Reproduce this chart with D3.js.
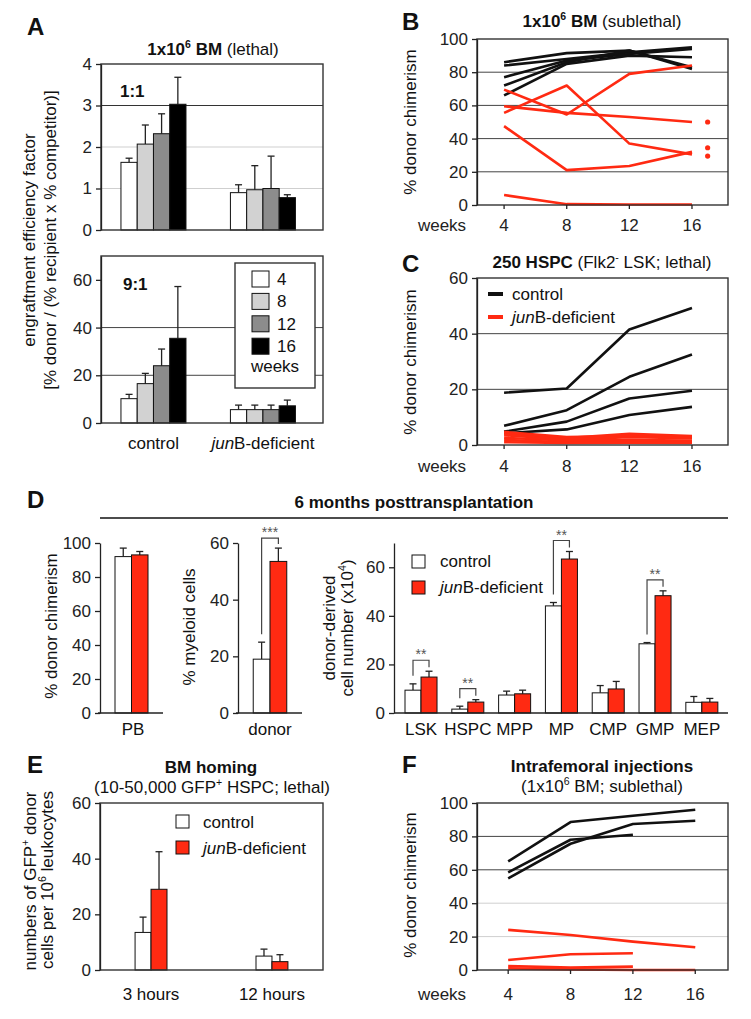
<!DOCTYPE html>
<html>
<head>
<meta charset="utf-8">
<script src="https://cdn.jsdelivr.net/npm/d3@7"></script>
<style>
  body { margin: 0; background: #fff; }
  svg { font-family: "Liberation Sans", Arial, sans-serif; }
</style>
</head>
<body>
<svg id="fig" width="751" height="1019"></svg>
<script>
// ---- data ----
const weeks = [4, 8, 12, 16];
const weekFills = ["#ffffff", "#d2d2d2", "#8c8c8c", "#000000"];
const groupsA = ["control", "junB-deficient"];
// A, 1:1 competitor ratio (mean / top of error bar), rows = group, cols = week
const a11Mean = [[1.63, 2.07, 2.32, 3.03], [0.9, 0.97, 1.0, 0.78]];
const a11Err  = [[1.73, 2.53, 2.80, 3.68], [1.09, 1.55, 1.78, 0.85]];
// A, 9:1
const a91Mean = [[10.2, 16.5, 24, 35.5], [5.6, 5.6, 5.6, 7.2]];
const a91Err  = [[12, 20.8, 31, 57.2], [7.5, 7.5, 7.5, 9.6]];

// B: individual mice, % donor chimerism at weeks 4..16
const bControl = [[86, 91.5, 93, 82], [84, 88, 92, 95], [77, 87, 91, 94], [72, 86, 93, 83], [66, 85, 90, 89]];
const bJunB = [[69.5, 54.5, 79, 84], [55.5, 72, 37, 30.5], [59.5, 55.5, 53, 50], [47.5, 21, 23.5, 32], [6, 0.5, 0.3, 0.3]];
const bDots = [50, 34.5, 29.5];
const bDotWeek = 17;

// C
const cControl = [[18.8, 20.3, 41.5, 49.2], [6.9, 12.5, 24.5, 32.5], [4.8, 8.4, 16.7, 19.5], [4.2, 5.6, 10.8, 13.7]];
const cJunB = [[4.7, 2.9, 3.2, 3.0], [4.2, 2.5, 4.0, 3.2], [3.5, 2.0, 2.8, 2.4], [2.6, 1.6, 1.8, 1.6], [1.8, 1.0, 1.2, 1.0], [1.0, 0.7, 0.8, 0.7]];

// D
const genotypes = ["control", "junB"];
const dChimMean = [92, 93];
const dChimErr = [97, 95];
const dMyeMean = [19, 53.5];
const dMyeErr = [25, 58.2];
const cellTypes = ["LSK", "HSPC", "MPP", "MP", "CMP", "GMP", "MEP"];
const cellCtrl = [9.4, 1.6, 7.4, 44.1, 8.3, 28.5, 4.4];
const cellCtrlErr = [12, 2.8, 9, 45.5, 11.3, 29, 6.8];
const cellJunB = [14.8, 4.5, 7.9, 63.4, 9.9, 48.3, 4.5];
const cellJunBErr = [17.2, 5.5, 9.4, 66.5, 13, 50.3, 6];
const cellSig = [["LSK", "**"], ["HSPC", "**"], ["MP", "**"], ["GMP", "**"]];

// E
const homingTimes = ["3 hours", "12 hours"];
const homingCtrl = [13.5, 5];
const homingCtrlErr = [19, 7.5];
const homingJunB = [29, 3];
const homingJunBErr = [42.5, 5.5];

// F (some mice only followed to week 12)
const fControl = [[65, 88.6, 92.4, 96], [58.4, 78, 81], [54.8, 75.6, 87.4, 89.4]];
const fJunB = [[24, 21, 17, 13.6], [6, 9.4, 10], [2.4, 1.4, 2], [1, 0.4, 0, 0]];

// ---- drawing ----
const RED = "#ff2a12";
const FONT = 17;
const svg = d3.select("#fig");

function addText(g, x, y, parts, o = {}) {
  const size = o.size || FONT;
  const t = g.append("text").attr("x", x).attr("y", y)
    .attr("text-anchor", o.anchor || "middle")
    .attr("font-size", size)
    .attr("fill", o.fill || "#111")
    .style("white-space", "pre");
  if (o.rotate) t.attr("transform", `rotate(-90 ${x} ${y})`);
  if (o.bold) t.attr("font-weight", "bold");
  let shift = 0;
  (typeof parts === "string" ? [{t: parts}] : parts).forEach(p => {
    const s = t.append("tspan").text(p.t);
    if (p.b) s.attr("font-weight", "bold");
    if (p.i) s.attr("font-style", "italic");
    const want = p.sup ? -size * 0.4 : 0;
    if (want !== shift) { s.attr("dy", want - shift); shift = want; }
    if (p.sup) s.attr("font-size", size * 0.62);
  });
  return t;
}

function yAxis(g, y, x0, ticks) {
  const ax = g.append("g").attr("transform", `translate(${x0},0)`)
    .call(d3.axisLeft(y).tickValues(ticks).tickFormat(d3.format("d"))
      .tickSize(5).tickPadding(4).tickSizeOuter(0));
  ax.attr("font-family", null).attr("font-size", null);
  ax.select(".domain").attr("stroke", "#222").attr("stroke-width", 1.3);
  ax.selectAll(".tick line").attr("stroke", "#222").attr("stroke-width", 1.3);
  ax.selectAll(".tick text").attr("font-size", FONT).attr("fill", "#222");
  return ax;
}

function grid(g, y, x0, x1, vals, color) {
  g.selectAll(null).data(vals).join("line")
    .attr("x1", x0).attr("x2", x1)
    .attr("y1", d => y(d)).attr("y2", d => y(d))
    .attr("stroke", color).attr("stroke-width", 1);
}

function box(g, x0, x1, y0, y1) {
  g.append("rect").attr("x", x0).attr("y", y0).attr("width", x1 - x0).attr("height", y1 - y0)
    .attr("fill", "none").attr("stroke", "#333").attr("stroke-width", 1.4);
}

// grouped bars with upper error bars; means[group][key]
function barGroups(g, x0, x1, y, groups, keys, means, errs, fills) {
  const recs = [];
  groups.forEach((grp, gi) => keys.forEach((k, ki) => recs.push({
    x: x0(grp) + x1(k), w: x1.bandwidth(), v: means[gi][ki], e: errs[gi][ki], fill: fills[ki]
  })));
  const eb = g.selectAll(null).data(recs).join("g");
  eb.append("line")
    .attr("x1", d => d.x + d.w / 2).attr("x2", d => d.x + d.w / 2)
    .attr("y1", d => y(d.v)).attr("y2", d => y(d.e))
    .attr("stroke", "#222").attr("stroke-width", 1.3);
  eb.append("line")
    .attr("x1", d => d.x + d.w / 2 - 3.5).attr("x2", d => d.x + d.w / 2 + 3.5)
    .attr("y1", d => y(d.e)).attr("y2", d => y(d.e))
    .attr("stroke", "#222").attr("stroke-width", 1.3);
  g.selectAll(null).data(recs).join("rect")
    .attr("x", d => d.x).attr("width", d => d.w)
    .attr("y", d => y(d.v)).attr("height", d => y(0) - y(d.v))
    .attr("fill", d => d.fill).attr("stroke", "#111").attr("stroke-width", 1);
}

function lines(g, x, y, data, color, width) {
  const line = d3.line().x((d, i) => x(weeks[i])).y(d => y(d));
  g.selectAll(null).data(data).join("path")
    .attr("d", line).attr("fill", "none")
    .attr("stroke", color).attr("stroke-width", width)
    .attr("stroke-linejoin", "round");
}

function weekLabels(g, x, yBase) {
  g.selectAll(null).data(weeks).join("text")
    .attr("x", d => x(d)).attr("y", yBase).attr("text-anchor", "middle")
    .attr("font-size", FONT).attr("fill", "#222").text(d => d);
  addText(g, 442, yBase, "weeks", {fill: "#222"});
  g.selectAll(null).data(weeks).join("line")
    .attr("x1", d => x(d)).attr("x2", d => x(d))
    .attr("y1", x.yBottom).attr("y2", x.yBottom + 4)
    .attr("stroke", "#222").attr("stroke-width", 1.3);
}

function sigBracket(g, xa, xb, yTop, yLeft, yRight, label) {
  g.append("path").attr("d", `M${xa},${yLeft}V${yTop}H${xb}V${yRight}`)
    .attr("fill", "none").attr("stroke", "#444").attr("stroke-width", 1.2);
  addText(g, (xa + xb) / 2, yTop - 1, label, {size: 14, fill: "#555"});
}

function letter(x, y, s) {
  addText(svg, x, y, s, {anchor: "start", size: 24, bold: true});
}

// ---------- A ----------
const gA = svg.append("g");
const aX0 = d3.scaleBand().domain(groupsA).range([101, 323])
  .paddingInner(0.406).paddingOuter(0.217).align(0.42);
const aX1 = d3.scaleBand().domain(weeks).range([0, aX0.bandwidth()]);
const aYTop = d3.scaleLinear().domain([0, 4]).range([230, 64]);
const aYBot = d3.scaleLinear().domain([0, 70]).range([423, 256]);

letter(27, 35, "A");
addText(gA, 213, 55, [{t: "1x10", b: 1}, {t: "6", b: 1, sup: 1}, {t: " BM", b: 1}, {t: " (lethal)"}]);
grid(gA, aYTop, 101, 323, [1, 2], "#cfcfcf");
grid(gA, aYTop, 101, 323, [3], "#333");
barGroups(gA, aX0, aX1, aYTop, groupsA, weeks, a11Mean, a11Err, weekFills);
box(gA, 101, 323, 64, 230);
yAxis(gA, aYTop, 101, [0, 1, 2, 3, 4]);
addText(gA, 120, 97, "1:1", {anchor: "start", bold: true});

grid(gA, aYBot, 101, 323, [20, 40], "#444");
barGroups(gA, aX0, aX1, aYBot, groupsA, weeks, a91Mean, a91Err, weekFills);
box(gA, 101, 323, 256, 423);
yAxis(gA, aYBot, 101, [0, 20, 40, 60]);
addText(gA, 123, 290, "9:1", {anchor: "start", bold: true});

// legend
const lgA = gA.append("g");
lgA.append("rect").attr("x", 235).attr("y", 263).attr("width", 80).attr("height", 125)
  .attr("fill", "#fff").attr("stroke", "#333").attr("stroke-width", 1.4);
weeks.forEach((w, i) => {
  const cy = 279 + i * 22.4;
  lgA.append("rect").attr("x", 252).attr("y", cy - 8).attr("width", 17).attr("height", 16)
    .attr("fill", weekFills[i]).attr("stroke", "#111").attr("stroke-width", 1);
  addText(lgA, 277, cy + 6, String(w), {anchor: "start"});
});
addText(lgA, 275, 372, "weeks");

addText(gA, aX0("control") + aX0.bandwidth() / 2, 449, "control");
addText(gA, aX0("junB-deficient") + aX0.bandwidth() / 2, 449, [{t: "jun", i: 1}, {t: "B-deficient"}]);
addText(gA, 35, 240, "engraftment efficiency factor", {rotate: true});
addText(gA, 56, 240, "[% donor / (% recipient x % competitor)]", {rotate: true});

// ---------- B ----------
const gB = svg.append("g");
const bX = d3.scaleLinear().domain([2.27, 18.3]).range([477, 728]);
bX.yBottom = 205;
const bY = d3.scaleLinear().domain([0, 100]).range([205, 39]);
letter(402, 30, "B");
addText(gB, 602, 27, [{t: "1x10", b: 1}, {t: "6", b: 1, sup: 1}, {t: " BM", b: 1}, {t: " (sublethal)"}]);
grid(gB, bY, 477, 728, [20, 40, 60, 80], "#444");
lines(gB, bX, bY, bControl, "#111", 2.6);
lines(gB, bX, bY, bJunB, RED, 2.6);
gB.selectAll(null).data(bDots).join("circle")
  .attr("cx", bX(bDotWeek)).attr("cy", d => bY(d)).attr("r", 2.6).attr("fill", RED);
box(gB, 477, 728, 39, 205);
yAxis(gB, bY, 477, [0, 20, 40, 60, 80, 100]);
weekLabels(gB, bX, 231);
addText(gB, 416, 122, "% donor chimerism", {rotate: true});

// ---------- C ----------
const gC = svg.append("g");
const cX = d3.scaleLinear().domain([2.27, 18.3]).range([477, 728]);
cX.yBottom = 445;
const cY = d3.scaleLinear().domain([0, 60]).range([445, 278]);
letter(402, 272, "C");
addText(gC, 602, 268, [{t: "250 HSPC", b: 1}, {t: " (Flk2"}, {t: "-", sup: 1}, {t: " LSK; lethal)"}]);
grid(gC, cY, 477, 728, [20, 40], "#444");
lines(gC, cX, cY, cControl, "#111", 2.6);
lines(gC, cX, cY, cJunB, RED, 2.6);
box(gC, 477, 728, 278, 445);
yAxis(gC, cY, 477, [0, 20, 40, 60]);
weekLabels(gC, cX, 472);
addText(gC, 416, 362, "% donor chimerism", {rotate: true});
gC.append("line").attr("x1", 488).attr("x2", 503).attr("y1", 294).attr("y2", 294)
  .attr("stroke", "#111").attr("stroke-width", 4);
addText(gC, 512, 300, "control", {anchor: "start"});
gC.append("line").attr("x1", 488).attr("x2", 503).attr("y1", 317).attr("y2", 317)
  .attr("stroke", RED).attr("stroke-width", 4);
addText(gC, 512, 323, [{t: "jun", i: 1}, {t: "B-deficient"}], {anchor: "start"});

// ---------- D ----------
const gD = svg.append("g");
letter(27, 508, "D");
addText(gD, 414, 508, "6 months posttransplantation", {bold: true});
gD.append("line").attr("x1", 100).attr("x2", 728).attr("y1", 518).attr("y2", 518)
  .attr("stroke", "#111").attr("stroke-width", 1.4);
const fillsD = ["#ffffff", RED];
const dBase = 713;

function bottomLine(g, x0, x1) {
  g.append("line").attr("x1", x0).attr("x2", x1).attr("y1", dBase).attr("y2", dBase)
    .attr("stroke", "#222").attr("stroke-width", 1.3);
}

// D1
const d1X0 = d3.scaleBand().domain(["PB"]).range([100, 163]).paddingInner(0.45).paddingOuter(0.25);
const d1X1 = d3.scaleBand().domain(genotypes).range([0, d1X0.bandwidth()]);
const d1Y = d3.scaleLinear().domain([0, 100]).range([dBase, 543]);
barGroups(gD, d1X0, d1X1, d1Y, ["PB"], genotypes, [dChimMean], [dChimErr], fillsD);
bottomLine(gD, 98, 163);
yAxis(gD, d1Y, 100, [0, 20, 40, 60, 80, 100]);
addText(gD, 133, 735, "PB");
addText(gD, 57, 626, "% donor chimerism", {rotate: true});

// D2
const d2X0 = d3.scaleBand().domain(["donor"]).range([238, 302]).paddingInner(0.45).paddingOuter(0.25);
const d2X1 = d3.scaleBand().domain(genotypes).range([0, d2X0.bandwidth()]);
const d2Y = d3.scaleLinear().domain([0, 60]).range([dBase, 543]);
barGroups(gD, d2X0, d2X1, d2Y, ["donor"], genotypes, [dMyeMean], [dMyeErr], fillsD);
bottomLine(gD, 236, 302);
yAxis(gD, d2Y, 238, [0, 20, 40, 60]);
addText(gD, 270, 735, "donor");
addText(gD, 195, 627, "% myeloid cells", {rotate: true});
{
  const xa = d2X0("donor") + d2X1("control") + d2X1.bandwidth() / 2;
  const xb = d2X0("donor") + d2X1("junB") + d2X1.bandwidth() / 2;
  sigBracket(gD, xa, xb, d2Y(dMyeErr[1]) - 10, d2Y(dMyeErr[0]) - 8, d2Y(dMyeErr[1]) - 4, "***");
}

// D3
const d3X0 = d3.scaleBand().domain(cellTypes).range([394, 728])
  .paddingInner(0.316).paddingOuter(0.226).align(0.52);
const d3X1 = d3.scaleBand().domain(genotypes).range([0, d3X0.bandwidth()]);
const d3Y = d3.scaleLinear().domain([0, 70]).range([dBase, 543]);
barGroups(gD, d3X0, d3X1, d3Y, cellTypes, genotypes,
  d3.zip(cellCtrl, cellJunB), d3.zip(cellCtrlErr, cellJunBErr), fillsD);
bottomLine(gD, 394, 728);
yAxis(gD, d3Y, 394, [0, 20, 40, 60]);
gD.selectAll(null).data(cellTypes).join("text")
  .attr("x", d => d3X0(d) + d3X0.bandwidth() / 2).attr("y", 735)
  .attr("text-anchor", "middle").attr("font-size", FONT).attr("fill", "#111").text(d => d);
cellSig.forEach(([type, lab]) => {
  const i = cellTypes.indexOf(type);
  const xa = d3X0(type) + d3X1("control") + d3X1.bandwidth() / 2;
  const xb = d3X0(type) + d3X1("junB") + d3X1.bandwidth() / 2;
  const top = d3Y(cellJunBErr[i]) - 11;
  sigBracket(gD, xa, xb, top, Math.max(top + 6, d3Y(cellCtrlErr[i]) - 8), d3Y(cellJunBErr[i]) - 4, lab);
});
addText(gD, 335, 628, "donor-derived", {rotate: true});
addText(gD, 353, 628, [{t: "cell number (x10"}, {t: "4", sup: 1}, {t: ")"}], {rotate: true});
// legend
gD.append("rect").attr("x", 412).attr("y", 555).attr("width", 13).attr("height", 13)
  .attr("fill", "#fff").attr("stroke", "#111");
addText(gD, 440, 567, "control", {anchor: "start"});
gD.append("rect").attr("x", 412).attr("y", 581).attr("width", 13).attr("height", 13)
  .attr("fill", RED).attr("stroke", "#111");
addText(gD, 440, 593, [{t: "jun", i: 1}, {t: "B-deficient"}], {anchor: "start"});

// ---------- E ----------
const gE = svg.append("g");
letter(27, 773, "E");
addText(gE, 211, 773, "BM homing", {bold: true});
addText(gE, 212, 793, [{t: "(10-50,000 GFP"}, {t: "+", sup: 1}, {t: " HSPC; lethal)"}]);
const eX0 = d3.scaleBand().domain(homingTimes).range([100, 323]).paddingInner(0.736).paddingOuter(0.29);
const eX1 = d3.scaleBand().domain(genotypes).range([0, eX0.bandwidth()]);
const eY = d3.scaleLinear().domain([0, 60]).range([970, 803]);
barGroups(gE, eX0, eX1, eY, homingTimes, genotypes,
  d3.zip(homingCtrl, homingJunB), d3.zip(homingCtrlErr, homingJunBErr), fillsD);
box(gE, 100, 323, 803, 970);
yAxis(gE, eY, 100, [0, 20, 40, 60]);
gE.selectAll(null).data(homingTimes).join("text")
  .attr("x", d => eX0(d) + eX0.bandwidth() / 2).attr("y", 1000)
  .attr("text-anchor", "middle").attr("font-size", FONT).attr("fill", "#111").text(d => d);
gE.append("rect").attr("x", 176).attr("y", 815).attr("width", 13).attr("height", 13)
  .attr("fill", "#fff").attr("stroke", "#111");
addText(gE, 203, 828, "control", {anchor: "start"});
gE.append("rect").attr("x", 176).attr("y", 841).attr("width", 13).attr("height", 13)
  .attr("fill", RED).attr("stroke", "#111");
addText(gE, 203, 854, [{t: "jun", i: 1}, {t: "B-deficient"}], {anchor: "start"});
addText(gE, 36, 881, [{t: "numbers of GFP"}, {t: "+", sup: 1}, {t: " donor"}], {rotate: true});
addText(gE, 53, 880, [{t: "cells per 10"}, {t: "6", sup: 1}, {t: " leukocytes"}], {rotate: true});

// ---------- F ----------
const gF = svg.append("g");
letter(402, 773, "F");
addText(gF, 602, 772, "Intrafemoral injections", {bold: true});
addText(gF, 602, 792, [{t: "(1x10"}, {t: "6", sup: 1}, {t: " BM; sublethal)"}]);
const fX = d3.scaleLinear().domain([2.0, 18.1]).range([477, 728]);
fX.yBottom = 970;
const fY = d3.scaleLinear().domain([0, 100]).range([970, 803]);
grid(gF, fY, 477, 728, [20, 40], "#cfcfcf");
grid(gF, fY, 477, 728, [60, 80], "#444");
lines(gF, fX, fY, fControl, "#111", 2.6);
lines(gF, fX, fY, fJunB, RED, 2.6);
box(gF, 477, 728, 803, 970);
yAxis(gF, fY, 477, [0, 20, 40, 60, 80, 100]);
weekLabels(gF, fX, 1000);
addText(gF, 416, 885, "% donor chimerism", {rotate: true});
</script>
</body>
</html>
